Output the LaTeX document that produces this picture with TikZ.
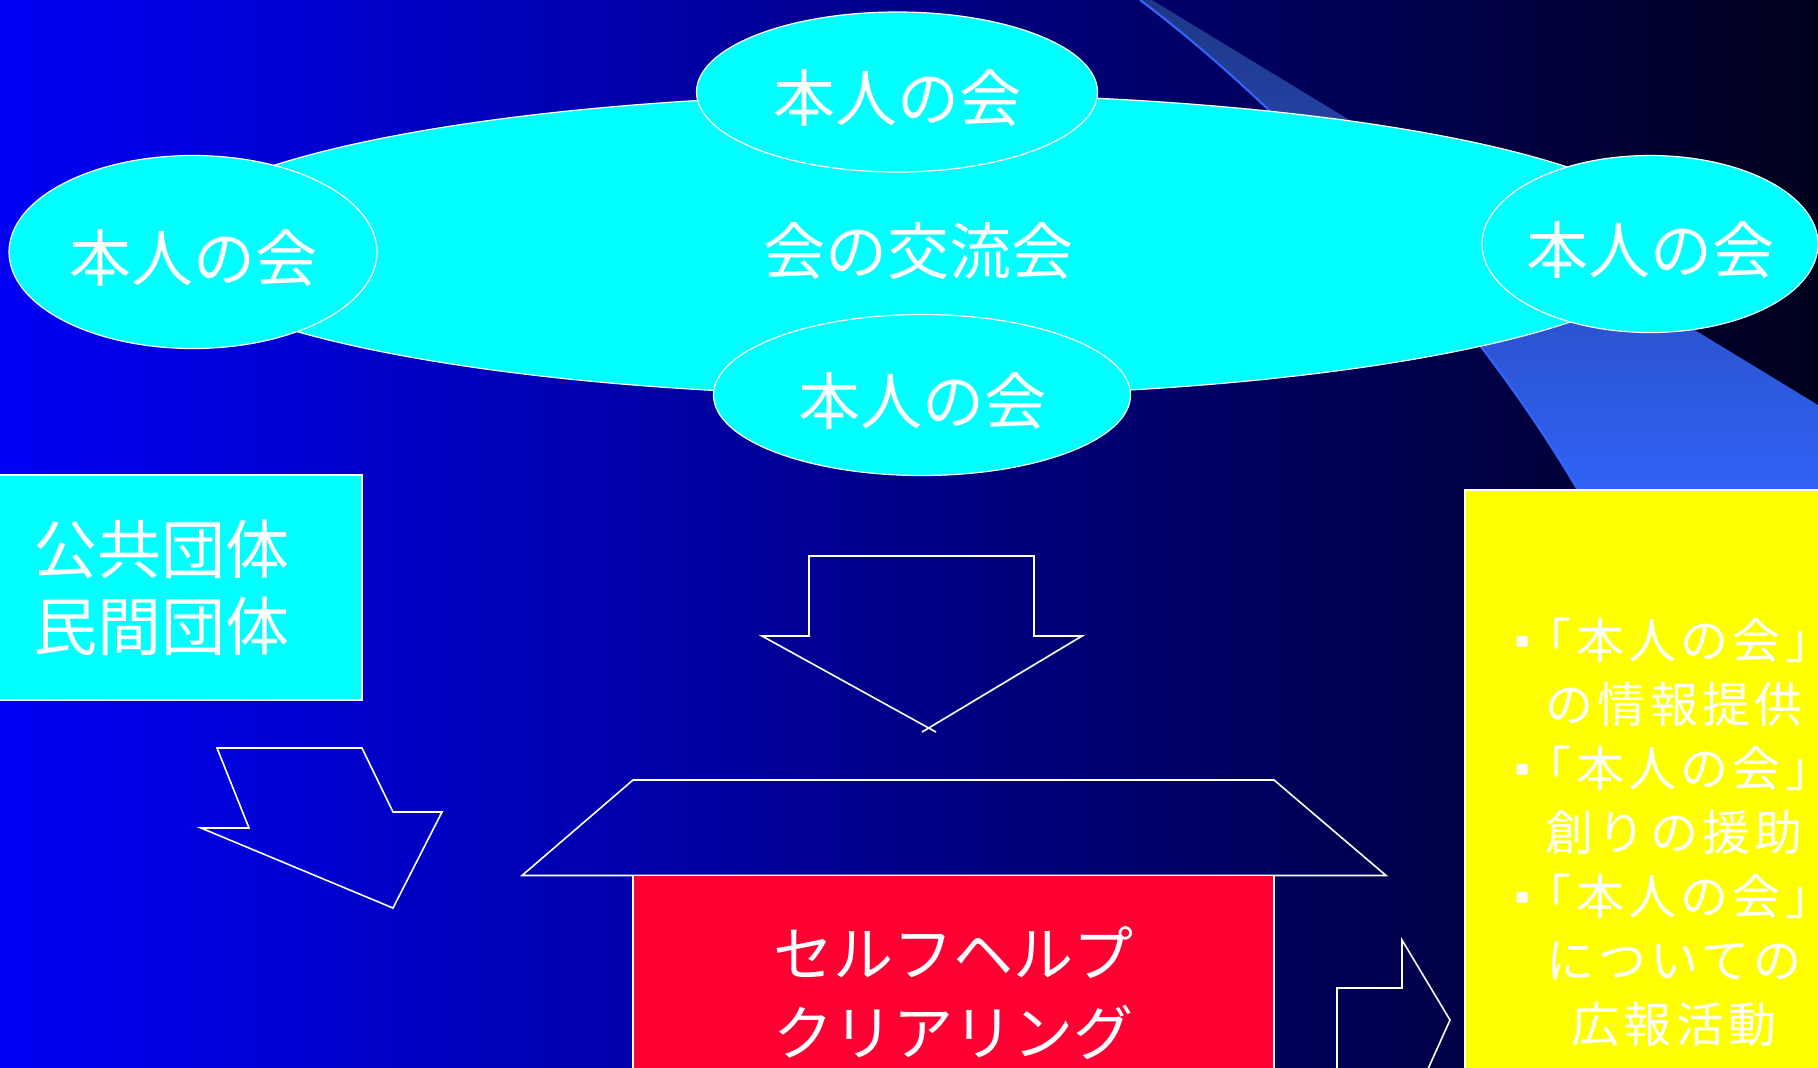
\documentclass[tikz,border=0pt]{standalone}
\usepackage{fontspec}
\setmainfont{Noto Sans CJK JP}
\newfontfamily\spaced[LetterSpace=9]{Noto Sans CJK JP}
\newfontfamily\symf{DejaVu Sans}
\usetikzlibrary{shapes.geometric}
\definecolor{bgleft}{RGB}{0,0,245}
\definecolor{bgright}{RGB}{0,0,28}
\definecolor{swtop}{RGB}{30,55,135}
\definecolor{swbot}{RGB}{51,102,255}
\definecolor{aqua}{RGB}{0,255,255}
\definecolor{clred}{RGB}{255,0,51}
\definecolor{lemon}{RGB}{255,255,0}
\newcommand{\sqbullet}{\raisebox{5.5pt}{\symf\fontsize{11}{11}\selectfont ▪}\kern-3pt}
\newcommand{\low}[1]{\raisebox{-3pt}[\height][\depth]{#1}}

\begin{document}
\begin{tikzpicture}[x=0.5pt, y=-0.5pt,
  hon/.style={ellipse, draw=white, fill=aqua, text=white, line width=0.6pt, inner xsep=-15pt, inner ysep=0pt, font=\fontsize{31}{37}\selectfont},
  box/.style={rectangle, draw=white, line width=0.6pt, text=white, inner sep=0pt},
  outline/.style={draw=white, line width=0.8pt, line join=miter}]
	\useasboundingbox (0,0) rectangle (1818,1067);
	\clip (0,0) rectangle (1818,1067);
	\shade[left color=bgleft, right color=bgright] (0,0) rectangle (1818,1067);

	% swoosh
	\shade[top color=swtop, bottom color=swbot] (1140,0) .. controls (1300,120) and (1500,340) .. (1600,530) -- (1818,530) -- (1818,405) -- (1152,0) -- cycle;
	\draw[swbot, line width=1pt] (1140,0) .. controls (1300,120) and (1500,340) .. (1600,530);

	% meetings
	\draw node[hon, minimum width=758pt, minimum height=151pt] (koryu) at (918,245) {\low{会の交流会}};
	\draw node[hon, minimum width=200.5pt, minimum height=80pt] (hon1) at (897,92) {\low{本人の会}};
	\draw node[hon, minimum width=184pt, minimum height=96.5pt] (hon2) at (193,252) {\low{本人の会}};
	\draw node[hon, minimum width=168pt, minimum height=88.5pt] (hon3) at (1650,244) {\low{本人の会}};
	\draw node[hon, minimum width=208.5pt, minimum height=80.5pt] (hon4) at (922,395) {\low{本人の会}};

	\draw node[box, fill=aqua, minimum width=201pt, minimum height=112.5pt, align=left, font=\fontsize{32}{38.5}\selectfont] (dantai) at (161,587.5) {公共団体\\民間団体};

	% arrows and roof
	\draw[outline] (217,748) -- (362,748) -- (393,812) -- (442,812) -- (393,908) -- (201,828) -- (249,828) -- cycle;
	\draw[outline] (922,732) -- (1082,636) -- (1034,636) -- (1034,556) -- (809,556) -- (809,636) -- (762,636) -- (936,732);
	\draw[outline] (633,780) -- (1274,780) -- (1386,875.5) -- (522,875.5) -- cycle;

	\draw node[box, fill=clred, minimum width=320.5pt, minimum height=117.5pt, align=center, font=\fontsize{30}{39.5}\selectfont] (clearing) at (953.5,993) {セルフヘルプ\\クリアリング};

	\draw[outline] (1337,1100) -- (1337,988) -- (1402,988) -- (1402,940) -- (1450,1020) -- (1414,1100);

	\draw node[box, fill=lemon, minimum width=209pt, minimum height=342pt, align=center, font=\spaced\fontsize{24}{32}\selectfont] (info) at (1674,832) {\sqbullet「本人の会」\\の情報提供\\\sqbullet「本人の会」\\創りの援助\\\sqbullet「本人の会」\\についての\\広報活動};
\end{tikzpicture}
\end{document}
